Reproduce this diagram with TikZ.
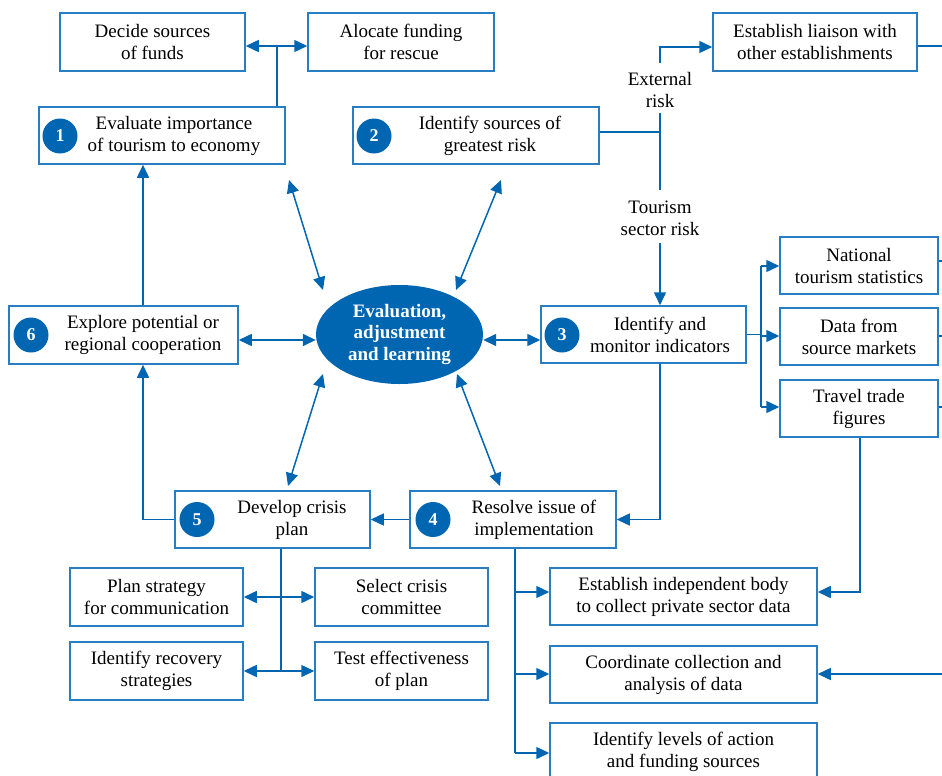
\documentclass[tikz,border=0pt]{standalone}
\usepackage{fontspec}
\setmainfont{Liberation Serif}
\usetikzlibrary{arrows.meta,shapes.geometric}
\definecolor{lblue}{RGB}{0,102,178}
\definecolor{bblue}{RGB}{40,125,195}
\begin{document}
\begin{tikzpicture}[x=1pt,y=-1pt,
  box/.style={draw=bblue,line width=1.5pt,fill=white,inner sep=0pt,align=center,font=\fontsize{19}{22}\selectfont},
  txt/.style={inner sep=0pt,align=center,font=\fontsize{19}{22}\selectfont},
  num/.style={circle,fill=lblue,minimum size=35pt,inner sep=0pt,text=white,font=\fontsize{18}{18}\selectfont\bfseries},
  con/.style={draw=lblue,line width=1.5pt},
  arr/.style={con,-{Triangle[length=13pt,width=12pt]}},
  darr/.style={con,{Triangle[length=13pt,width=12pt]}-{Triangle[length=13pt,width=12pt]}}]
\useasboundingbox (0,0) rectangle (942,776);
\begin{scope}
\clip (0,0) rectangle (942,776);
% boxes
\node[box,minimum width=185pt,minimum height=58pt] (dec) at (152.5,42) {Decide sources\\of funds};
\node[box,minimum width=186pt,minimum height=58pt] (alo) at (401,42) {Alocate funding\\for rescue};
\node[box,minimum width=204pt,minimum height=58pt] (lia) at (815,42) {Establish liaison with\\other establishments};
\node[box,minimum width=246pt,minimum height=57pt] (b1) at (162,135.5) {};
\node[num] (n1) at (60,136) {1};
\node[txt] (t1) at (174,135.5) {Evaluate importance\\of tourism to economy};
\node[box,minimum width=246pt,minimum height=57pt] (b2) at (476,135.5) {};
\node[num] (n2) at (374,136) {2};
\node[txt] (t2) at (490,135.5) {Identify sources of\\greatest risk};
\node[box,minimum width=229pt,minimum height=58pt] (b6) at (123.5,335) {};
\node[num] (n6) at (31,335) {6};
\node[txt] (t6) at (143,335) {Explore potential or\\regional cooperation};
\node[ellipse,fill=lblue,minimum width=167pt,minimum height=99pt,inner sep=0pt,align=center,text=white,font=\fontsize{19}{21.5}\selectfont\bfseries] (ev) at (399.5,334.5) {Evaluation,\\adjustment\\and learning};
\node[box,minimum width=205pt,minimum height=57pt] (b3) at (643.5,334.5) {};
\node[num] (n3) at (562,335) {3};
\node[txt] (t3) at (660,334.5) {Identify and\\monitor indicators};
\node[box,minimum width=158pt,minimum height=57pt] (nat) at (859,265.5) {National\\tourism statistics};
\node[box,minimum width=158pt,minimum height=57pt] (dat) at (859,336.5) {Data from\\source markets};
\node[box,minimum width=158pt,minimum height=57pt] (tra) at (859,408.5) {Travel trade\\figures};
\node[box,minimum width=195pt,minimum height=57pt] (b5) at (272.5,519.5) {};
\node[num] (n5) at (197,519.5) {5};
\node[txt] (t5) at (292,519.5) {Develop crisis\\plan};
\node[box,minimum width=206pt,minimum height=57pt] (b4) at (513,519.5) {};
\node[num] (n4) at (433,519.5) {4};
\node[txt] (t4) at (534,519.5) {Resolve issue of\\implementation};
\node[box,minimum width=173pt,minimum height=58pt] (pla) at (156.5,597) {Plan strategy\\for communication};
\node[box,minimum width=173pt,minimum height=58pt] (sel) at (401.5,597) {Select crisis\\committee};
\node[box,minimum width=173pt,minimum height=58pt] (rec) at (156.5,671) {Identify recovery\\strategies};
\node[box,minimum width=173pt,minimum height=58pt] (tes) at (401.5,671) {Test effectiveness\\of plan};
\node[box,minimum width=267pt,minimum height=57pt] (est) at (683.5,596.5) {Establish independent body\\to collect private sector data};
\node[box,minimum width=267pt,minimum height=57pt] (coo) at (683.5,674.5) {Coordinate collection and\\analysis of data};
\node[box,minimum width=267pt,minimum height=58pt] (lev) at (683.5,752) {Identify levels of action\\and funding sources};
% labels
\node[txt] (ext) at (660,90) {External\\risk};
\node[txt] (tsr) at (660,218) {Tourism\\sector risk};
% coordinates
\coordinate (e1) at (942,46);
\coordinate (e2) at (942,261);
\coordinate (e3) at (942,336);
\coordinate (e4) at (942,407);
\coordinate (e5) at (942,674);
% connectors top
\draw[con] (b1.north -| 277,0) -- (277,46) coordinate (j1);
\draw[arr] (j1) -- (dec.east |- j1);
\draw[arr] (j1) -- (alo.west |- j1);
\draw[arr] (b6.north -| 143,0) -- (b1.south -| 143,0);
\draw[arr] (b5.west) -- (143,519.5) -- (b6.south -| 143,0);
\draw[arr] (b4.west) -- (b5.east);
\draw[arr] (b3.south -| 660,0) -- (660,519.5) -- (b4.east);
% risk branch
\draw[con] (b2.east |- 0,132) -- (660,132);
\draw[con] (660,113) -- (660,190);
\draw[arr] (660,63) -- (660,47) -- (lia.west |- 0,47);
\draw[arr] (660,243) -- (b3.north -| 660,0);
% indicators
\draw[con] (b3.east) -- (761,334.5);
\draw[con] (761,266) -- (761,407);
\draw[arr] (761,266) -- (nat.west |- 0,266);
\draw[arr] (761,336) -- (dat.west |- 0,336);
\draw[arr] (761,407) -- (tra.west |- 0,407);
\draw[con] (lia.east |- e1) -- (e1);
\draw[con] (nat.east |- e2) -- (e2);
\draw[con] (dat.east |- e3) -- (e3);
\draw[con] (tra.east |- e4) -- (e4);
\draw[arr] (tra.south -| 860,0) -- (860,592) -- (est.east |- 0,592);
\draw[arr] (e5) -- (coo.east |- e5);
% implementation branch
\draw[con] (b4.south -| 515,0) -- (515,753);
\draw[arr] (515,592) -- (est.west |- 0,592);
\draw[arr] (515,674) -- (coo.west |- 0,674);
\draw[arr] (515,753) -- (lev.west |- 0,753);
% crisis plan branch
\draw[con] (b5.south -| 281,0) -- (281,671);
\draw[arr] (281,597) -- (pla.east |- 0,597);
\draw[arr] (281,597) -- (sel.west |- 0,597);
\draw[arr] (281,671) -- (rec.east |- 0,671);
\draw[arr] (281,671) -- (tes.west |- 0,671);
% evaluation arrows
\draw[darr] (b6.east |- 0,340) -- (ev.west |- 0,340);
\draw[darr] (ev.east |- 0,340) -- (b3.west |- 0,340);
\coordinate (d1) at (289,180);
\coordinate (d2) at (501,180);
\coordinate (d3) at (288,486);
\coordinate (d4) at (500,486);
\draw[darr] (d1) -- (323,290);
\draw[darr] (d2) -- (456,290);
\draw[darr] (d3) -- (323,374);
\draw[darr] (d4) -- (457,374);
\end{scope}
\end{tikzpicture}
\end{document}
